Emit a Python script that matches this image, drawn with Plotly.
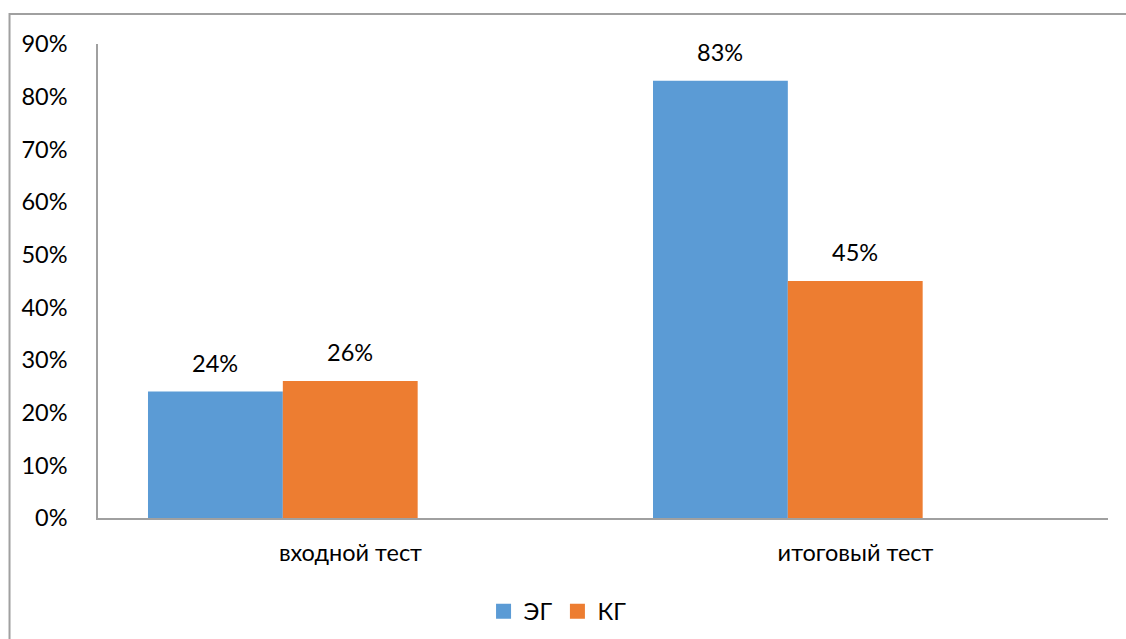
import plotly.graph_objects as go

categories = ["входной тест", "итоговый тест"]
series_names = ["ЭГ", "КГ"]
eg_values = [0.24, 0.83]
kg_values = [0.26, 0.45]
y_ticks = [0, 0.1, 0.2, 0.3, 0.4, 0.5, 0.6, 0.7, 0.8, 0.9]

colors = ["#5B9BD5", "#ED7D31"]
bar_w = 0.267
offsets = [-0.401, -0.401 + bar_w]
FONT = "Lato"
FS = 23.5

fig = go.Figure()
for name, vals, col, off in zip(series_names, [eg_values, kg_values], colors, offsets):
    fig.add_trace(go.Bar(
        x=categories, y=vals, name=name, marker=dict(color=col, line=dict(width=0)),
        width=bar_w, offset=off, showlegend=False,
    ))
    for i, v in enumerate(vals):
        fig.add_annotation(
            x=i + off + bar_w / 2, y=v, xref="x", yref="y",
            text=f"{round(v*100)}%", showarrow=False, yanchor="bottom", yshift=13,
            font=dict(family=FONT, size=FS, color="#000"),
        )
    fig.add_trace(go.Scatter(
        x=[None], y=[None], mode="markers", name=name,
        marker=dict(symbol="square", size=15, color=col, line=dict(width=0)),
    ))

fig.update_layout(
    width=1126, height=639,
    margin=dict(l=98, r=18, t=44, b=121, autoexpand=False),
    paper_bgcolor="white", plot_bgcolor="white",
    barmode="overlay",
    font=dict(family=FONT, size=FS, color="#000"),
    showlegend=True,
    legend=dict(orientation="h", x=0.455, xanchor="center", y=-0.197, yanchor="middle",
                font=dict(family=FONT, size=FS, color="#000"), traceorder="normal",
                itemwidth=30, tracegroupgap=0),
    xaxis=dict(range=[-0.5, 1.5], showline=True, linecolor="#a0a0a0", linewidth=1.5,
               showgrid=False, ticks="", ticklabelstandoff=13, zeroline=False),
    yaxis=dict(range=[0, 0.9], tickvals=y_ticks, tickformat=".0%", showline=True,
               linecolor="#a0a0a0", linewidth=1.5, showgrid=False, ticks="",
               ticklabelstandoff=24, zeroline=False),
    shapes=[dict(type="rect", xref="paper", yref="paper", x0=-0.0876, x1=1.2,
                 y0=-0.5, y1=1.0633, line=dict(color="#a0a0a0", width=2), layer="below")],
)

fig.write_html("out.html")
